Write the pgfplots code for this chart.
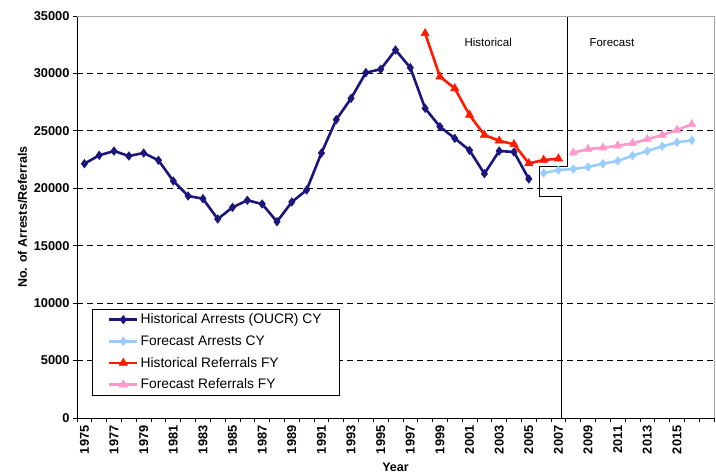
\documentclass[border=0pt]{standalone}
\usepackage{fontspec}
\setmainfont{Liberation Sans}
\usepackage{pgfplots}
\pgfplotsset{compat=1.18}
\definecolor{navyc}{HTML}{1A167C}
\definecolor{ltblue}{HTML}{99CCFF}
\definecolor{redc}{HTML}{FF1A00}
\definecolor{pinkc}{HTML}{FF99CC}
\begin{document}
\begin{tikzpicture}
\begin{axis}[
  at={(0pt,0pt)}, anchor=south west,
  scale only axis, width=637pt, height=402pt,
  xmin=1974.5, xmax=2017.5, ymin=0, ymax=35000,
  axis x line*=bottom, axis y line*=left,
  axis line style={-, black, line width=0.8pt},
  xtick={1975,1977,...,2015},
  minor xtick={1974.5,1975.5,...,2017.5},
  major x tick style={draw=none},
  minor x tick style={black, line width=0.8pt},
  ytick={0,5000,...,35000},
  scaled y ticks=false,
  y tick style={black, line width=0.8pt},
  tick align=outside, major tick length=4pt, minor tick length=4pt,
  ymajorgrids,
  grid style={black, line width=0.8pt, dash pattern=on 6pt off 4pt},
  /pgf/number format/1000 sep={},
  /pgf/number format/assume math mode=true,
  yticklabel={\pgfmathprintnumber[fixed,precision=0,1000 sep={}]{\tick}},
  tick label style={font=\fontsize{12.8}{14}\selectfont\bfseries},
  xticklabel style={rotate=90, anchor=east},
  xlabel={Year}, ylabel={No. of Arrests/Referrals},
  xlabel style={yshift=-2pt},
  label style={font=\fontsize{12.5}{14}\selectfont\bfseries},
  clip=false,
  legend cell align=left,
  legend style={at={(rel axis cs:0.023,0.055)}, anchor=south west,
    draw=black, line width=0.8pt, fill=white,
    font=\fontsize{13.8}{15}\selectfont, inner xsep=16pt, inner ysep=3pt,
    row sep=6.3pt},
  legend image code/.code={%
    \draw[#1, mark repeat=2, mark phase=2] plot coordinates {(0pt,0pt) (14pt,0pt) (28pt,0pt)};},
]
\addplot[navyc, line width=2.6pt, mark=diamond*, mark size=4.3pt, mark options={solid, line width=0.5pt}] coordinates {
(1975,22140) (1976,22870) (1977,23245) (1978,22810) (1979,23070) (1980,22435)
(1981,20635) (1982,19330) (1983,19095) (1984,17325) (1985,18340) (1986,18955)
(1987,18630) (1988,17090) (1989,18805) (1990,19850) (1991,23070) (1992,25970)
(1993,27830) (1994,30070) (1995,30360) (1996,32040) (1997,30500) (1998,26960)
(1999,25360) (2000,24350) (2001,23300) (2002,21270) (2003,23245) (2004,23160)
(2005,20810)};
\addlegendentry{Historical Arrests (OUCR) CY}
\addplot[ltblue, line width=2.6pt, mark=diamond*, mark size=4.3pt, mark options={solid, line width=0.5pt}] coordinates {
(2006,21330) (2007,21590) (2008,21680) (2009,21850) (2010,22140) (2011,22375)
(2012,22840) (2013,23245) (2014,23650) (2015,24000) (2016,24180)};
\addlegendentry{Forecast Arrests CY}
\addplot[redc, line width=2.6pt, mark=triangle*, mark size=4.8pt, mark options={solid, line width=0.5pt}] coordinates {
(1998,33490) (1999,29720) (2000,28700) (2001,26380) (2002,24640) (2003,24140)
(2004,23830) (2005,22170) (2006,22460) (2007,22580)};
\addlegendentry{Historical Referrals FY}
\addplot[pinkc, line width=2.6pt, mark=triangle*, mark size=4.8pt, mark options={solid, line width=0.5pt}] coordinates {
(2008,23100) (2009,23420) (2010,23530) (2011,23710) (2012,23915) (2013,24265)
(2014,24640) (2015,25075) (2016,25570)};
\addlegendentry{Forecast Referrals FY}
\draw[black, line width=0.8pt] (axis cs:2007.57,35000) -- (axis cs:2007.57,21880) -- (axis cs:2005.7,21880) -- (axis cs:2005.7,19330) -- (axis cs:2007.19,19330) -- (axis cs:2007.19,0);
\draw[gray!70, line width=0.8pt] (rel axis cs:0,1) -- (rel axis cs:1,1) -- (rel axis cs:1,0);
\node[font=\fontsize{11.5}{13}\selectfont] at (axis cs:2002.26,32675) {Historical};
\node[font=\fontsize{11.5}{13}\selectfont] at (axis cs:2010.61,32675) {Forecast};
\end{axis}
\pgfresetboundingbox
\path ([shift={(-77pt,-56pt)}]current axis.south west) rectangle ([shift={(2pt,16pt)}]current axis.north east);
\end{tikzpicture}
\end{document}
